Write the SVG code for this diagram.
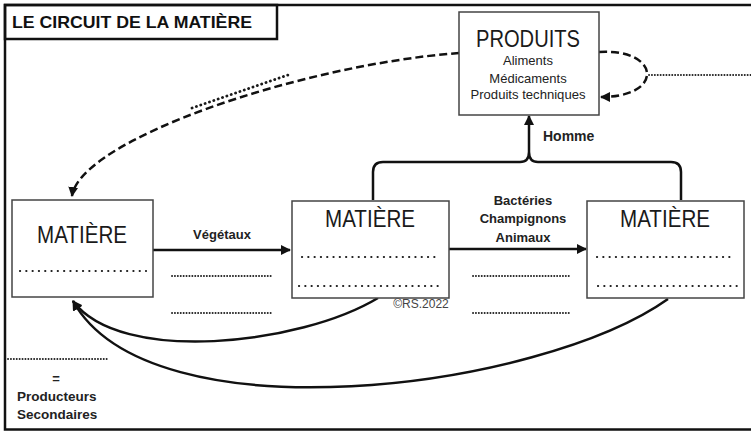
<svg xmlns="http://www.w3.org/2000/svg" width="751" height="432" viewBox="0 0 751 432">
<style>
.frame{fill:none;stroke:#111;stroke-width:2.5}
.box{fill:#fff;stroke:#444;stroke-width:1.5}
.big{font-family:"Liberation Sans",Arial,sans-serif;font-size:24px;fill:#1a1a1a;text-anchor:middle}
.small{font-family:"Liberation Sans",Arial,sans-serif;font-size:13px;fill:#222;text-anchor:middle}
.bold{font-family:"Liberation Sans",Arial,sans-serif;font-size:13px;font-weight:bold;fill:#222;text-anchor:middle}
.dotbig{stroke:#1a1a1a;stroke-width:2.2;stroke-dasharray:0.1 6.2;stroke-linecap:round;fill:none}
.dotfine{stroke:#222;stroke-width:1.9;stroke-dasharray:0.1 2.8;stroke-linecap:round;fill:none}
.solid{fill:none;stroke:#111;stroke-width:2.5}
.dash{fill:none;stroke:#111;stroke-width:2.5;stroke-dasharray:8 4}
</style>
<defs>
<marker id="ah" viewBox="0 0 10 10" refX="9" refY="5" markerWidth="4" markerHeight="4" orient="auto" markerUnits="strokeWidth">
<path d="M0,0 L10,5 L0,10 z" fill="#111"/>
</marker>
</defs>
<rect width="751" height="432" fill="#fff"/>
<rect class="frame" x="5" y="5" width="760" height="424.5"/>
<g id="title">
<rect class="frame" x="5" y="5" width="272" height="34" stroke-width="2"/>
<text x="12" y="28" font-family="'Liberation Sans',Arial,sans-serif" font-size="16.5" font-weight="bold" fill="#111" textLength="240" lengthAdjust="spacingAndGlyphs">LE CIRCUIT DE LA MATIÈRE</text>
</g>
<g id="connectors">
<path class="solid" d="M153,250 L290,250" marker-end="url(#ah)"/>
<path class="solid" d="M449,249 L586,249" marker-end="url(#ah)"/>
<path class="solid" d="M373,200 L373,172 Q373,162 383,162 L520,162 Q529,162 529,152 Q529,162 538,162 L671,162 Q681,162 681,172 L681,200"/>
<path class="solid" d="M529,152 L529,116" marker-end="url(#ah)"/>
<path class="solid" d="M378,298 C300,345 120,365 73,301" marker-end="url(#ah)"/>
<path class="solid" d="M668,299 C540,390 150,440 73,301" marker-end="url(#ah)"/>
<path class="dash" d="M459,53 C300,65 80,140 72,196" marker-end="url(#ah)"/>
<path class="dash" d="M599,52 C630,50 648,62 647,75 C646,88 628,97 601,97" marker-end="url(#ah)"/>
</g>
<g id="produits">
<rect class="box" x="459" y="12" width="140" height="103"/>
<text class="big" x="528" y="47" textLength="104" lengthAdjust="spacingAndGlyphs">PRODUITS</text>
<text class="small" x="528" y="65">Aliments</text>
<text class="small" x="528" y="83">Médicaments</text>
<text class="small" x="528" y="99" textLength="115" lengthAdjust="spacingAndGlyphs">Produits techniques</text>
</g>
<g id="matiere1">
<rect class="box" x="12" y="200" width="141" height="97"/>
<text class="big" x="82" y="243" textLength="90" lengthAdjust="spacingAndGlyphs">MATIÈRE</text>
<line class="dotbig" x1="20" y1="271" x2="146" y2="271"/>
</g>
<g id="matiere2">
<rect class="box" x="292" y="201" width="157" height="97"/>
<text class="big" x="370" y="227" textLength="90" lengthAdjust="spacingAndGlyphs">MATIÈRE</text>
<line class="dotbig" x1="302" y1="257" x2="438" y2="257"/>
<line class="dotbig" x1="299" y1="286" x2="442" y2="286"/>
</g>
<g id="matiere3">
<rect class="box" x="587" y="201" width="157" height="97"/>
<text class="big" x="665" y="227" textLength="90" lengthAdjust="spacingAndGlyphs">MATIÈRE</text>
<line class="dotbig" x1="597" y1="257" x2="734" y2="257"/>
<line class="dotbig" x1="598" y1="286" x2="738" y2="286"/>
</g>
<g id="labels">
<text class="bold" x="222" y="239">Végétaux</text>
<text class="bold" x="523" y="205">Bactéries</text>
<text class="bold" x="523" y="223">Champignons</text>
<text class="bold" x="523" y="242">Animaux</text>
<text x="543" y="141" font-family="'Liberation Sans',Arial,sans-serif" font-size="14" font-weight="bold" fill="#222">Homme</text>
<text x="421" y="308" font-family="'Liberation Sans',Arial,sans-serif" font-size="12" fill="#444" text-anchor="middle">©RS.2022</text>
<text class="bold" x="56" y="383">=</text>
<text x="17" y="401" font-family="'Liberation Sans',Arial,sans-serif" font-size="13.5" font-weight="bold" fill="#222">Producteurs</text>
<text x="17" y="419" font-family="'Liberation Sans',Arial,sans-serif" font-size="13.5" font-weight="bold" fill="#222">Secondaires</text>
</g>
<g id="dotted">
<line class="dotfine" x1="172" y1="276" x2="272" y2="276"/>
<line class="dotfine" x1="172" y1="313" x2="272" y2="313"/>
<line class="dotfine" x1="473" y1="276" x2="571" y2="276"/>
<line class="dotfine" x1="473" y1="313" x2="571" y2="313"/>
<line class="dotfine" x1="8" y1="359" x2="108" y2="359"/>
<line class="dotfine" x1="649" y1="75" x2="751" y2="75"/>
<line class="dotbig" x1="192" y1="108" x2="288" y2="75" style="stroke-dasharray:0.1 4.5;stroke-width:2.8"/>
</g>
</svg>
